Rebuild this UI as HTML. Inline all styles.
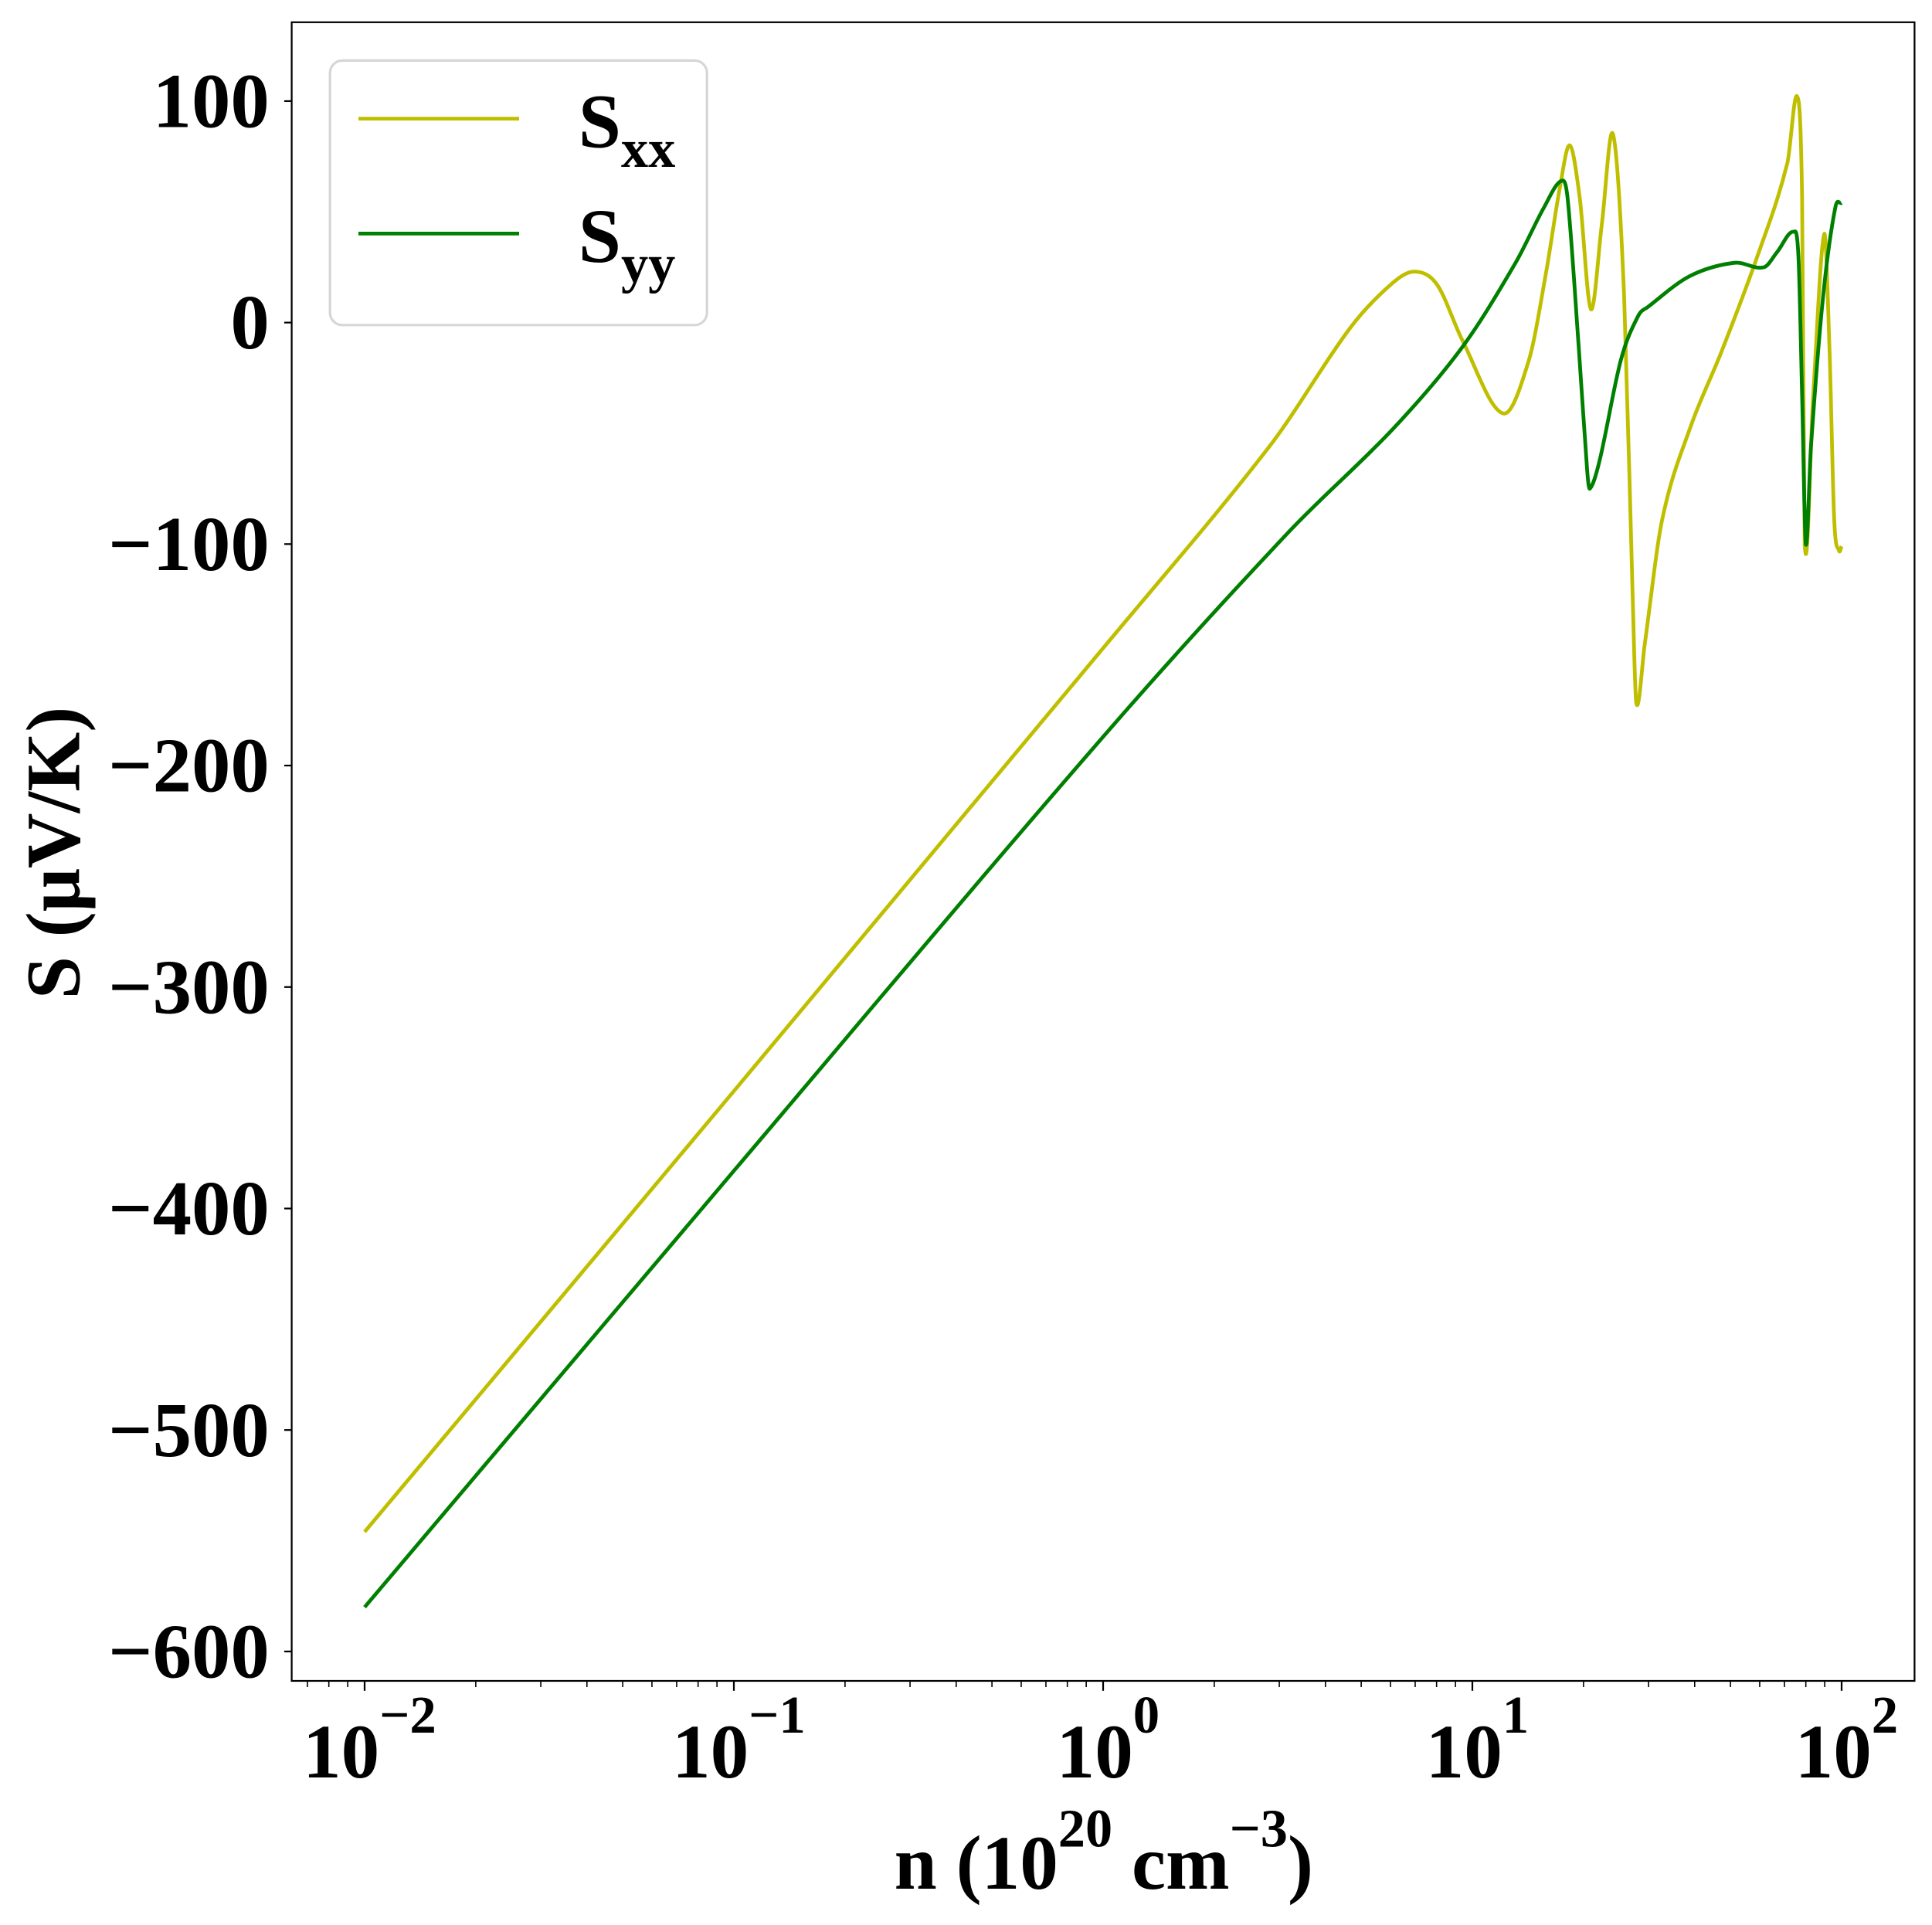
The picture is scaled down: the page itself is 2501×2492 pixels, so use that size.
<!DOCTYPE html>
<html><head><meta charset="utf-8"><style>
html,body{margin:0;padding:0;background:#fff;}
svg{display:block;}
text{font-family:"Liberation Serif","Times New Roman",serif;font-weight:bold;fill:#000;}
</style></head><body>
<svg id="chart" width="2501" height="2492" viewBox="0 0 1563.125 1557.5" xmlns="http://www.w3.org/2000/svg">
<g id="plot"></g>
</svg>
<script>
// log10(n) values and S values (μV/K)
const sxxLogN = [-2, -1, 0, 0.45, 0.671, 0.785, 0.845, 0.905, 0.973, 1.083, 1.153, 1.200, 1.237, 1.264, 1.291, 1.321, 1.351, 1.381, 1.411, 1.434, 1.444, 1.467, 1.514, 1.591, 1.675, 1.772, 1.853, 1.880, 1.893, 1.900, 1.923, 1.953, 1.967, 1.980, 1.993, 2.0];
const sxxS    = [-546, -347, -147, -56, -2, 18, 23, 17, -8, -41, -17, 23, 61, 80, 56, 6, 45, 85, 12, -123, -172, -145, -89, -47, -13, 30, 72, 102, 56, -100, -33, 40, -11, -89, -103, -101];
const syyLogN = [-2, -1, 0, 0.5, 0.785, 0.973, 1.117, 1.194, 1.241, 1.258, 1.288, 1.311, 1.318, 1.345, 1.402, 1.449, 1.475, 1.589, 1.710, 1.790, 1.826, 1.870, 1.883, 1.893, 1.903, 1.917, 1.950, 1.983, 2.0];
const syyS    = [-580, -383, -187, -95, -48, -11, 27, 52, 64, 56, -11, -67, -75, -62, -17, 3, 7, 21, 27, 25, 32, 41, 30, -33, -100, -56, 12, 52, 54];
const yTicks = [100, 0, -100, -200, -300, -400, -500, -600];
const yTickLabels = ["100", "0", "\u2212100", "\u2212200", "\u2212300", "\u2212400", "\u2212500", "\u2212600"];
const xTicks = [-2, -1, 0, 1, 2];
const xTickExps = ["\u22122", "\u22121", "0", "1", "2"];

const L = 236, R = 1549, T = 18, B = 1360;
function xs(lg){ return 295 + (lg + 2) * 298.75; }
function ys(v){ return 261 - v * 1.792; }

const NS = "http://www.w3.org/2000/svg";
const g = document.getElementById('plot');
function mk(tag, attrs, parent){
  const e = document.createElementNS(NS, tag);
  for (const k in attrs) e.setAttribute(k, attrs[k]);
  (parent || g).appendChild(e);
  return e;
}

function pathFor(xa, ya){
  const p = xa.map((v,i)=>[xs(v), ys(ya[i])]);
  let d = `M${p[0][0]},${p[0][1]}`;
  for (let i=0;i<p.length-1;i++){
    const p0=p[Math.max(0,i-1)], p1=p[i], p2=p[i+1], p3=p[Math.min(p.length-1,i+2)];
    const h = p2[0]-p1[0];
    const s0 = (p2[1]-p0[1])/((p2[0]-p0[0])||1);
    const s1 = (p3[1]-p1[1])/((p3[0]-p1[0])||1);
    const c1=[p1[0]+h/3, p1[1]+s0*h/3];
    const c2=[p2[0]-h/3, p2[1]-s1*h/3];
    d += ` C${c1[0]},${c1[1]} ${c2[0]},${c2[1]} ${p2[0]},${p2[1]}`;
  }
  return d;
}

const sxx = mk('path', {d: pathFor(sxxLogN, sxxS), fill:'none', stroke:'#bfbf00', 'stroke-width':3, 'stroke-linejoin':'round'});


const syy = mk('path', {d: pathFor(syyLogN, syyS), fill:'none', stroke:'#008000', 'stroke-width':3, 'stroke-linejoin':'round'});



const frame = mk('rect', {x:L, y:T, width:R-L, height:B-T, fill:'none', stroke:'#000', 'stroke-width':1.4});



yTicks.forEach((v,i)=>{
  const y = ys(v);
  mk('line', {x1:L-6, x2:L, y1:y, y2:y, stroke:'#000', 'stroke-width':1.4});
  const t = mk('text', {x:L-18, y:y+21, 'font-size':63, 'text-anchor':'end'});
  t.textContent = yTickLabels[i];
  
  
});

xTicks.forEach((lg,i)=>{
  const x = xs(lg);
  mk('line', {x1:x, x2:x, y1:B, y2:B+8, stroke:'#000', 'stroke-width':1.4});
  const t = mk('text', {x:x+4, y:B+78, 'font-size':62, 'text-anchor':'middle'});
  t.textContent = '10';
  const s = mk('tspan', {dy:-36, 'font-size':43}, t);
  s.textContent = xTickExps[i];
  
  
});
for (let d=-3; d<=2; d++){
  for (let m=2;m<=9;m++){
    const lg = d + Math.log10(m);
    const x = xs(lg);
    if (x < L || x > R) continue;
    mk('line', {x1:x, x2:x, y1:B, y2:B+5, stroke:'#000', 'stroke-width':1});
  }
}

const xt = mk('text', {x:893, y:1528, 'font-size':62, 'text-anchor':'middle'});
xt.innerHTML = 'n (10<tspan dy="-34" font-size="44">20</tspan><tspan dy="34"> cm</tspan><tspan dy="-34" font-size="44">\u22123</tspan><tspan dy="34">)</tspan>';


const yt = mk('text', {x:0, y:0, 'font-size':62, 'text-anchor':'middle', transform:'translate(64,690) rotate(-90)'});
yt.textContent = 'S (\u03bcV/K)';



const lg = mk('g', {});


mk('rect', {x:267, y:49, width:305, height:214, rx:10, fill:'#fff', stroke:'#d6d6d6', 'stroke-width':2}, lg);
mk('line', {x1:290, x2:420, y1:96, y2:96, stroke:'#bfbf00', 'stroke-width':3}, lg);
mk('line', {x1:290, x2:420, y1:189, y2:189, stroke:'#008000', 'stroke-width':3}, lg);
const l1 = mk('text', {x:468, y:119, 'font-size':62}, lg);
l1.innerHTML = 'S<tspan dy="16" font-size="44">xx</tspan>';


const l2 = mk('text', {x:468, y:212, 'font-size':62}, lg);
l2.innerHTML = 'S<tspan dy="16" font-size="44">yy</tspan>';


</script>
</body></html>
